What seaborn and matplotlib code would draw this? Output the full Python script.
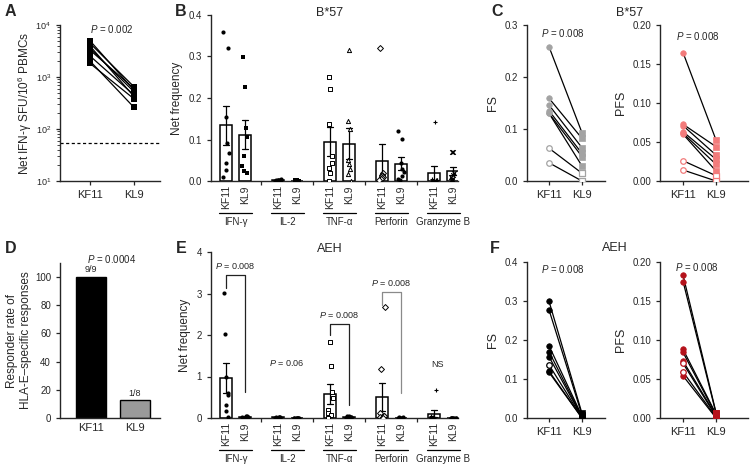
import numpy as np
import pandas as pd
import matplotlib
matplotlib.use("Agg")
import matplotlib.pyplot as plt
import matplotlib.transforms as mtransforms
import seaborn as sns

# ---------------- data ----------------
conds = ["KF11", "KL9"]
cytokines = ["IFN-γ", "IL-2", "TNF-α", "Perforin", "Granzyme B"]

# A: ELISpot, net SFU per 10^6 PBMCs
a_kf11 = [4990, 4450, 3960, 3570, 3300, 2540, 2030, 1830]
a_kl9 = [560, 650, 420, 520, 600, 450, 260, 380]
a_cutoff = 53

# B: B*57 net frequency, one list per cytokine
b_kf11 = [[0.358, 0.320, 0.155, 0.091, 0.067, 0.043, 0.027, 0.010],
          [0.003, 0.002, 0.004, 0.001, 0.002, 0.003, 0.001, 0.002],
          [0.250, 0.221, 0.137, 0.060, 0.043, 0.031, 0.019, 0.000],
          [0.320, 0.020, 0.015, 0.012, 0.010, 0.008, 0.006, 0.003],
          [0.142, 0.004, 0.003, 0.002, 0.002, 0.001, 0.001, 0.000]]
b_kl9 = [[0.298, 0.226, 0.127, 0.105, 0.060, 0.035, 0.025, 0.020],
         [0.001, 0.002, 0.001, 0.000, 0.001, 0.002, 0.001, 0.000],
         [0.315, 0.144, 0.126, 0.051, 0.040, 0.028, 0.016, 0.000],
         [0.120, 0.101, 0.043, 0.030, 0.021, 0.012, 0.006, 0.003],
         [0.070, 0.070, 0.020, 0.015, 0.010, 0.004, 0.002, 0.001]]

# C: B*57 functionality scores
c_fs_kf11 = [0.258, 0.159, 0.146, 0.135, 0.130, 0.130, 0.063, 0.035]
c_fs_kl9 = [0.093, 0.082, 0.064, 0.053, 0.047, 0.029, 0.015, 0.000]
c_pfs_kf11 = [0.1645, 0.0727, 0.0709, 0.0632, 0.0611, 0.060, 0.026, 0.0141]
c_pfs_kl9 = [0.0526, 0.044, 0.0333, 0.0278, 0.0214, 0.0128, 0.0068, 0.000]
c_open = [False, False, False, False, False, False, True, True]

# D: responder rate
d_rate = [100, 12.5]
d_labels = ["9/9", "1/8"]

# E: AEH net frequency
e_kf11 = [[3.02, 2.02, 1.00, 0.60, 0.55, 0.32, 0.17, 0.03],
          [0.03, 0.02, 0.02, 0.015, 0.01, 0.01, 0.005, 0.0],
          [1.84, 1.26, 0.63, 0.48, 0.20, 0.12, 0.08, 0.00],
          [2.68, 1.17, 0.12, 0.06, 0.04, 0.02, 0.01, 0.00],
          [0.67, 0.05, 0.03, 0.02, 0.02, 0.01, 0.00, 0.00]]
e_kl9 = [[0.05, 0.04, 0.03, 0.03, 0.02, 0.02, 0.01, 0.01],
         [0.01, 0.005, 0.005, 0.003, 0.002, 0.001, 0.0, 0.0],
         [0.05, 0.04, 0.03, 0.02, 0.02, 0.01, 0.01, 0.00],
         [0.02, 0.015, 0.01, 0.01, 0.005, 0.003, 0.0, 0.0],
         [0.01, 0.01, 0.005, 0.005, 0.003, 0.002, 0.0, 0.0]]

# F: AEH functionality scores
f_fs_kf11 = [0.299, 0.277, 0.185, 0.170, 0.157, 0.136, 0.120, 0.117]
f_fs_kl9 = [0.012, 0.008, 0.005, 0.003, 0.002, 0.001, 0.000, 0.000]
f_pfs_kf11 = [0.183, 0.175, 0.088, 0.084, 0.073, 0.070, 0.059, 0.054]
f_pfs_kl9 = [0.007, 0.006, 0.005, 0.004, 0.003, 0.002, 0.001, 0.000]
f_fs_open = [False, False, False, False, False, True, False, False]
f_pfs_open = [False, False, False, False, False, True, True, False]

# ---------------- style ----------------
sns.set_style("ticks")
plt.rcParams['font.family'] = ['Liberation Sans', 'DejaVu Sans']
plt.rcParams['mathtext.fontset'] = 'custom'
plt.rcParams['mathtext.rm'] = 'Liberation Sans'
plt.rcParams['mathtext.it'] = 'Liberation Sans:italic'
plt.rcParams['axes.linewidth'] = 1.0
plt.rcParams['xtick.major.width'] = 0.9
plt.rcParams['ytick.major.width'] = 0.9
plt.rcParams['xtick.major.size'] = 3
plt.rcParams['ytick.major.size'] = 3
np.random.seed(7)

W, H = 753, 472
fig = plt.figure(figsize=(W / 100, H / 100), dpi=100)


def px_axes(l, t, r, b):
    return fig.add_axes([l / W, 1 - b / H, (r - l) / W, (b - t) / H])


def ftext(x, y, s, **kw):
    fig.text(x / W, 1 - y / H, s, **kw)


gap = 2.75
kf_marks = [("o", "fill"), ("o", "fill"), ("s", "open"), ("D", "open"), ("+", "line")]
kl_marks_b = [("s", "fill"), ("s", "fill"), ("^", "open"), ("o", "fill"), ("x", "line")]
kl_marks_e = [("o", "fill")] * 5


def bar_panel(ax, kf, kl, kl_marks, ymax, ystep):
    rows = []
    for g in range(len(cytokines)):
        for c, vals in enumerate([kf[g], kl[g]]):
            for v in vals:
                rows.append({"pos": g * gap + c, "val": v, "grp": g, "cond": c})
    df = pd.DataFrame(rows)
    sns.barplot(data=df, x="pos", y="val", native_scale=True, errorbar="se",
                width=0.6, color="white", edgecolor="black", linewidth=1.1,
                capsize=0.35, err_kws={"color": "black", "linewidth": 0.9}, ax=ax)
    for (g, c), sub in df.groupby(["grp", "cond"]):
        m, kind = (kf_marks if c == 0 else kl_marks)[g]
        if kind == "fill":
            kw = dict(color="black", size=3.0, linewidth=0)
        elif kind == "open":
            kw = dict(color="white", edgecolor="black", linewidth=0.7, size=3.0)
        else:
            kw = dict(color="black", edgecolor="black", linewidth=0.8, size=3.3)
        sns.stripplot(data=sub, x="pos", y="val", native_scale=True, jitter=0.16,
                      marker=m, ax=ax, zorder=3, **kw)
    pos = [g * gap + c for g in range(len(cytokines)) for c in range(2)]
    ax.set_xticks(pos)
    ax.set_xticklabels(conds * len(cytokines), rotation=90, fontsize=7.5)
    ax.set_xticks([g * gap + 1.875 for g in range(len(cytokines) - 1)], minor=True)
    ax.tick_params(axis="x", which="major", length=0, pad=3)
    ax.tick_params(axis="x", which="minor", length=3, width=0.9)
    ax.set_xlim(-0.79, 12.27)
    ax.set_ylim(0, ymax)
    ax.set_yticks(np.arange(0, ymax + ystep / 2, ystep))
    ax.tick_params(axis="y", labelsize=7)
    ax.set_xlabel("")
    ax.set_ylabel("Net frequency", fontsize=8.5)
    tr = mtransforms.blended_transform_factory(ax.transData, ax.transAxes)
    for g, name in enumerate(cytokines):
        ax.plot([g * gap - 0.37, g * gap + 1.37], [-0.19, -0.19], transform=tr,
                color="black", lw=0.9, clip_on=False)
        ax.text(g * gap + 0.5, -0.245, name, transform=tr, ha="center", va="center",
                fontsize=7)
    sns.despine(ax=ax)


def paired(ax, kf, kl, kf_open, kl_open, color, ymax, ystep, fmt, ylabel):
    n = len(kf)
    df = pd.DataFrame({"id": list(range(n)) * 2, "x": [0] * n + [1] * n,
                       "val": kf + kl, "open": kf_open + kl_open})
    sns.lineplot(data=df, x="x", y="val", units="id", estimator=None,
                 color="black", lw=0.9, ax=ax, legend=False)
    for xi, m in [(0, "o"), (1, "s")]:
        sub = df[df["x"] == xi]
        sns.scatterplot(data=sub[~sub["open"]], x="x", y="val", marker=m, s=16,
                        color=color, edgecolor=color, linewidth=0.5, ax=ax,
                        zorder=3, legend=False)
        sns.scatterplot(data=sub[sub["open"]], x="x", y="val", marker=m, s=16,
                        color="white", edgecolor=color, linewidth=0.9, ax=ax,
                        zorder=3, legend=False)
    ax.set_xticks([0, 1])
    ax.set_xticklabels(conds, fontsize=8)
    ax.set_ylim(0, ymax)
    ax.set_yticks(np.arange(0, ymax + ystep / 2, ystep))
    ax.set_yticklabels([fmt.format(v) for v in np.arange(0, ymax + ystep / 2, ystep)])
    ax.tick_params(axis="y", labelsize=7)
    ax.set_xlabel("")
    ax.set_ylabel(ylabel, fontsize=9)
    sns.despine(ax=ax)


# ---------------- A ----------------
axA = px_axes(60, 25, 160, 181)
n = len(a_kf11)
dfA = pd.DataFrame({"id": list(range(n)) * 2, "x": [0] * n + [1] * n,
                    "val": a_kf11 + a_kl9})
sns.lineplot(data=dfA, x="x", y="val", units="id", estimator=None, color="black",
             lw=0.9, marker="s", markersize=4, markeredgewidth=0, ax=axA, legend=False)
axA.axhline(a_cutoff, color="black", lw=0.9, ls=(0, (2.5, 2)))
axA.set_yscale("log")
axA.set_ylim(10, 1e4)
axA.set_yticks([10, 100, 1000, 10000])
axA.set_yticklabels([r"$10^{1}$", r"$10^{2}$", r"$10^{3}$", r"$10^{4}$"], fontsize=6.5)
axA.set_xticks([0, 1])
axA.set_xticklabels(conds, fontsize=8)
axA.set_xlim(-0.68, 1.59)
axA.set_xlabel("")
axA.set_ylabel(r"Net IFN-γ SFU/10$^{6}$ PBMCs", fontsize=8.5, labelpad=1)
axA.text(0.5, 8300, r"$P$ = 0.002", ha="center", va="center", fontsize=7)
sns.despine(ax=axA)

# ---------------- B ----------------
axB = px_axes(211, 15, 458, 181)
bar_panel(axB, b_kf11, b_kl9, kl_marks_b, 0.4, 0.1)
axB.set_yticklabels(["0.0", "0.1", "0.2", "0.3", "0.4"])

# ---------------- C ----------------
axC1 = px_axes(527, 25, 605, 181)
paired(axC1, c_fs_kf11, c_fs_kl9, c_open, c_open, "#a3a3a3", 0.3, 0.1, "{:.1f}", "FS")
axC1.set_xlim(-0.67, 1.7)
axC1.text(0.42, 0.285, r"$P$ = 0.008", ha="center", va="center", fontsize=7)
axC2 = px_axes(660, 25, 748, 181)
paired(axC2, c_pfs_kf11, c_pfs_kl9, c_open, c_open, "#f27b7b", 0.2, 0.05, "{:.2f}", "PFS")
axC2.set_xlim(-0.7, 1.97)
axC2.text(0.45, 0.186, r"$P$ = 0.008", ha="center", va="center", fontsize=7)

# ---------------- D ----------------
axD = px_axes(60, 263, 160, 418)
dfD = pd.DataFrame({"cond": conds, "rate": d_rate})
sns.barplot(data=dfD, x="cond", y="rate", hue="cond", palette=["black", "#9a9a9a"],
            edgecolor="black", linewidth=1.0, width=0.68, saturation=1,
            legend=False, ax=axD)
for i, (v, lab) in enumerate(zip(d_rate, d_labels)):
    axD.text(i, v + 2, lab, ha="center", va="bottom", fontsize=6.5)
axD.text(0.48, 112.5, r"$P$ = 0.0004", ha="center", va="center", fontsize=7)
axD.set_ylim(0, 110)
axD.set_yticks([0, 20, 40, 60, 80, 100])
axD.tick_params(axis="y", labelsize=7)
axD.tick_params(axis="x", length=0, labelsize=8)
axD.set_xlim(-0.7, 1.57)
axD.set_xlabel("")
axD.set_ylabel("Responder rate of\nHLA-E–specific responses", fontsize=8.5, labelpad=2)
sns.despine(ax=axD)

# ---------------- E ----------------
axE = px_axes(211, 252, 458, 418)
bar_panel(axE, e_kf11, e_kl9, kl_marks_e, 4, 1)
for (x0, x1, yl, yt, yr, c) in [(0, 1, 3.13, 3.45, 0.63, "#222222"),
                               (5.5, 6.5, 2.0, 2.26, 0.31, "#222222"),
                               (8.25, 9.25, 2.72, 3.03, 0.6, "#8a8a8a")]:
    axE.plot([x0, x0, x1, x1], [yl, yt, yt, yr], color=c, lw=0.9, clip_on=False)
    axE.text((x0 + x1) / 2, yt + 0.22, r"$P$ = 0.008", ha="center", va="center",
             fontsize=6.5)
axE.text(3.2, 1.33, r"$P$ = 0.06", ha="center", va="center", fontsize=6.5)
axE.text(11.2, 1.28, "NS", ha="center", va="center", fontsize=6.5)

# ---------------- F ----------------
axF1 = px_axes(527, 262, 605, 418)
paired(axF1, f_fs_kf11, f_fs_kl9, f_fs_open, [False] * 8, "black", 0.4, 0.1, "{:.1f}", "FS")
axF1.set_xlim(-0.67, 1.7)
axF1.text(0.41, 0.382, r"$P$ = 0.008", ha="center", va="center", fontsize=7)
axF2 = px_axes(660, 262, 748, 418)
paired(axF2, f_pfs_kf11, f_pfs_kl9, f_pfs_open, [False] * 8, "#b5121b", 0.2, 0.05, "{:.2f}", "PFS")
axF2.set_xlim(-0.7, 1.97)
axF2.text(0.42, 0.194, r"$P$ = 0.008", ha="center", va="center", fontsize=7)

# ---------------- titles and panel letters ----------------
ftext(330, 13, "B*57", ha="center", va="center", fontsize=9)
ftext(630, 13, "B*57", ha="center", va="center", fontsize=9)
ftext(330, 249, "AEH", ha="center", va="center", fontsize=9)
ftext(615, 248, "AEH", ha="center", va="center", fontsize=9)
for x, y, s in [(10, 12, "A"), (181, 12, "B"), (497, 12, "C"),
                (11, 248, "D"), (181, 248, "E"), (495, 248, "F")]:
    ftext(x, y, s, ha="center", va="center", fontsize=11.5, fontweight="bold")

fig.savefig("out.png", dpi=100)
